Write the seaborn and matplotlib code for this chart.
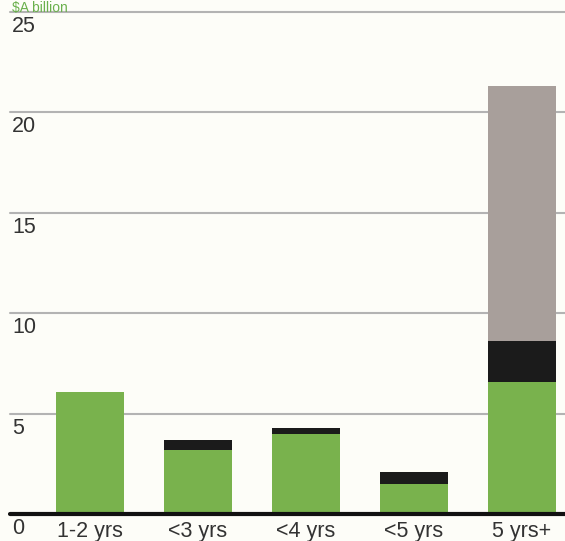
import matplotlib
matplotlib.use("Agg")
import matplotlib.pyplot as plt
import matplotlib.transforms as mtransforms
import seaborn as sns
import pandas as pd

# values ($A billion)
categories = ["1-2 yrs", "<3 yrs", "<4 yrs", "<5 yrs", "5 yrs+"]
green_part = [6.1, 3.2, 4.0, 1.5, 6.55]
black_part = [0.0, 0.5, 0.3, 0.6, 2.05]
grey_part = [0.0, 0.0, 0.0, 0.0, 12.7]
y_ticks = [0, 5, 10, 15, 20, 25]
unit_label = "$A billion"

df = pd.DataFrame({"cat": categories, "green": green_part,
                   "black": black_part, "grey": grey_part})
df["lvl2"] = df["green"] + df["black"]
df["lvl3"] = df["lvl2"] + df["grey"]

sns.set_style("white")
plt.rcParams["font.family"] = ["Liberation Sans", "DejaVu Sans"]

bg = "#fdfdf8"
fig = plt.figure(figsize=(5.65, 5.41), dpi=100, facecolor=bg)
W, H = 565, 541
ax = fig.add_axes([10 / W, (H - 514) / H, 555 / W, (514 - 12) / H])
ax.set_facecolor(bg)

bw = 0.63
# stacked bars drawn back to front (cumulative totals)
sns.barplot(data=df, x="cat", y="lvl3", color="#a89f9b", width=bw,
            saturation=1, linewidth=0, ax=ax, zorder=3)
sns.barplot(data=df, x="cat", y="lvl2", color="#1b1b1b", width=bw,
            saturation=1, linewidth=0, ax=ax, zorder=3)
sns.barplot(data=df, x="cat", y="green", color="#79b24d", width=bw,
            saturation=1, linewidth=0, ax=ax, zorder=3)

ax.set_xlim(-0.74, 4.4)
ax.set_ylim(0, 25)
for s in ax.spines.values():
    s.set_visible(False)

for t in y_ticks:
    if t == 0:
        ax.axhline(0, color="#111111", lw=3, zorder=5, clip_on=False)
    else:
        ax.axhline(t, color="#b3b3b3", lw=1.5, zorder=1, clip_on=False)

ax.set_yticks([])
ax.set_ylabel("")
ax.set_xlabel("")
ax.tick_params(axis="x", length=0, pad=5, labelsize=15.5, labelcolor="#333333")

trans = mtransforms.blended_transform_factory(ax.transAxes, ax.transData)
off = mtransforms.offset_copy(trans, fig=fig, x=2, y=-4, units="dots")
for t in y_ticks:
    ax.text(0, t, str(t), transform=off, ha="left", va="top",
            fontsize=15.5, color="#333333", clip_on=False)

fig.text(12 / W, 1 - 1 / H, unit_label, ha="left", va="top",
         fontsize=10, color="#6ab04c")

fig.savefig("out.png", dpi=100, facecolor=bg)
